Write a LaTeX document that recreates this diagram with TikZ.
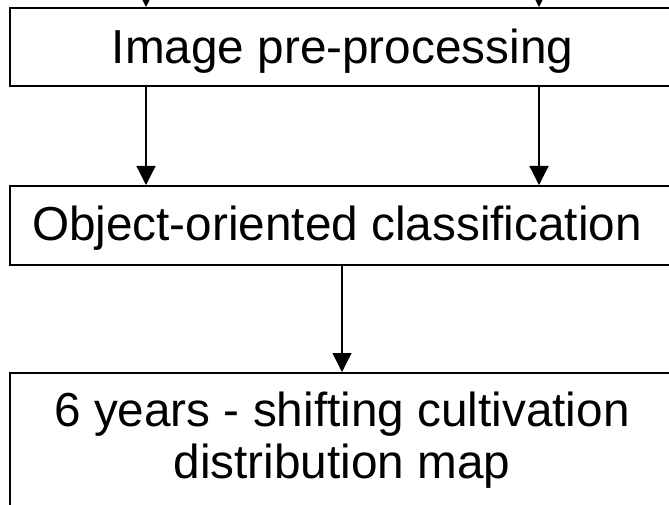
\documentclass[tikz,border=0pt]{standalone}
\usepackage{fontspec}
\setmainfont{Liberation Sans}
\usetikzlibrary{arrows.meta}
\begin{document}
\begin{tikzpicture}[x=1pt,y=1pt,
  box/.style={draw=black,line width=2pt,rectangle,minimum width=667pt,inner sep=0pt,anchor=north west},
  lbl/.style={inner sep=0pt,anchor=base,font=\fontsize{47.7}{52}\selectfont,align=center},
  conn/.style={draw=black,line width=1.3pt,-{Triangle[width=19pt,length=19pt]}}]
\useasboundingbox (0,0) rectangle (669,504);
\clip (0,0) rectangle (669,504);
% boxes (y measured from top: y = 504 - px)
\node[box,minimum height=78pt] (b1) at (9,497) {};
\node[box,minimum height=79pt] (b2) at (9,319) {};
\node[box,minimum height=200pt] (b3) at (9,132) {};
% texts
\node[lbl] (t1) at (342.5,440) {Image pre-processing};
\node[lbl] (t2) at (337,263) {Object-oriented classification};
\node[lbl] (t3a) at (342,78) {6 years - shifting cultivation};
\node[lbl] (t3b) at (342,26) {distribution map};
% free ends above
\coordinate (in1) at (146,560);
\coordinate (in2) at (539,560);
% connectors
\draw[conn] (in1) -- (in1 |- b1.north);
\draw[conn] (in2) -- (in2 |- b1.north);
\draw[conn] (in1 |- b1.south) -- (in1 |- b2.north);
\draw[conn] (in2 |- b1.south) -- (in2 |- b2.north);
\coordinate (mid) at (342,0);
\draw[conn] (mid |- b2.south) -- (mid |- b3.north);
\end{tikzpicture}
\end{document}
